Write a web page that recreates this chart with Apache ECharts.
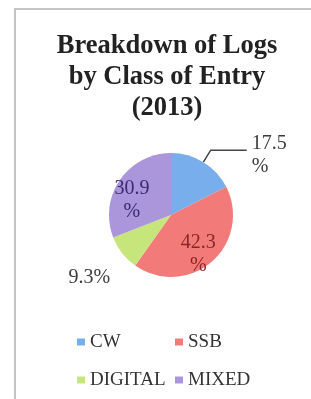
<!DOCTYPE html>
<html>
<head>
<meta charset="utf-8">
<script src="https://cdn.jsdelivr.net/npm/echarts@6/dist/echarts.min.js"></script>
<style>
  html, body { margin: 0; padding: 0; background: #fff; }
  #main { width: 311px; height: 399px; }
</style>
</head>
<body>
<div id="main"></div>
<script>
// values
const categories = ['CW', 'SSB', 'DIGITAL', 'MIXED']
const shares = [17.5, 42.3, 9.3, 30.9]
const colors = ['#78aeec', '#f27a78', '#c6e67c', '#ab96dc']
const labelColors = ['#3c3c3c', '#8a2626', '#3c3c3c', '#3a2a6e']
const titleText = 'Breakdown of Logs\nby Class of Entry\n(2013)'

const serif = 'Liberation Serif'

// how each slice label is shown (Excel-like: some inside, some outside)
const labelCfg = {
    CW: { position: 'outside', split: true, line: true, dx: 0, dy: 5 },
    SSB: { position: 'inside', split: true, line: false, dx: 5, dy: 14 },
    DIGITAL: { position: 'outside', split: false, line: false, dx: 40, dy: 16 },
    MIXED: { position: 'inside', split: true, line: false, dx: -11, dy: 4 },
}

let pieData = categories.map(function (name, i) {
    let cfg = labelCfg[name]
    return {
        name: name,
        value: shares[i],
        itemStyle: { color: colors[i] },
        label: {
            position: cfg.position,
            color: labelColors[i],
            formatter: cfg.split ? '{c}\n%' : '{c}%',
        },
        labelLine: { show: cfg.line },
    }
})

let option = {
    backgroundColor: '#ffffff',
    title: {
        text: titleText,
        left: 167,
        textAlign: 'center',
        top: 31,
        padding: 0,
        textStyle: {
            fontFamily: serif,
            fontSize: 26.5,
            fontWeight: 'bold',
            color: '#222',
            lineHeight: 31,
        },
    },
    graphic: [
        {
            type: 'rect',
            shape: { x: 15, y: 9, width: 310, height: 400 },
            style: { fill: 'none', stroke: '#c4c4c4', lineWidth: 2 },
            silent: true,
        },
    ],
    legend: {
        data: categories,
        left: 77,
        top: 327,
        padding: 0,
        width: 200,
        icon: 'rect',
        itemWidth: 8,
        itemHeight: 7,
        itemGap: 8,
        textStyle: {
            fontFamily: serif,
            fontSize: 19,
            color: '#333',
            width: 77,
            lineHeight: 30,
        },
    },
    series: [
        {
            type: 'pie',
            center: [171, 215],
            radius: 62,
            startAngle: 90,
            clockwise: true,
            avoidLabelOverlap: false,
            data: pieData,
            label: {
                fontFamily: serif,
                fontSize: 20,
                lineHeight: 23,
                align: 'center',
            },
            labelLine: {
                length: 14,
                length2: 36,
                lineStyle: { color: '#444', width: 1.5 },
            },
            labelLayout: function (params) {
                let cfg = labelCfg[categories[params.dataIndex]]
                return { dx: cfg.dx, dy: cfg.dy }
            },
            emphasis: { disabled: true },
        },
    ],
}

let myChart = echarts.init(document.getElementById('main'))
myChart.setOption(option)
</script>
</body>
</html>
